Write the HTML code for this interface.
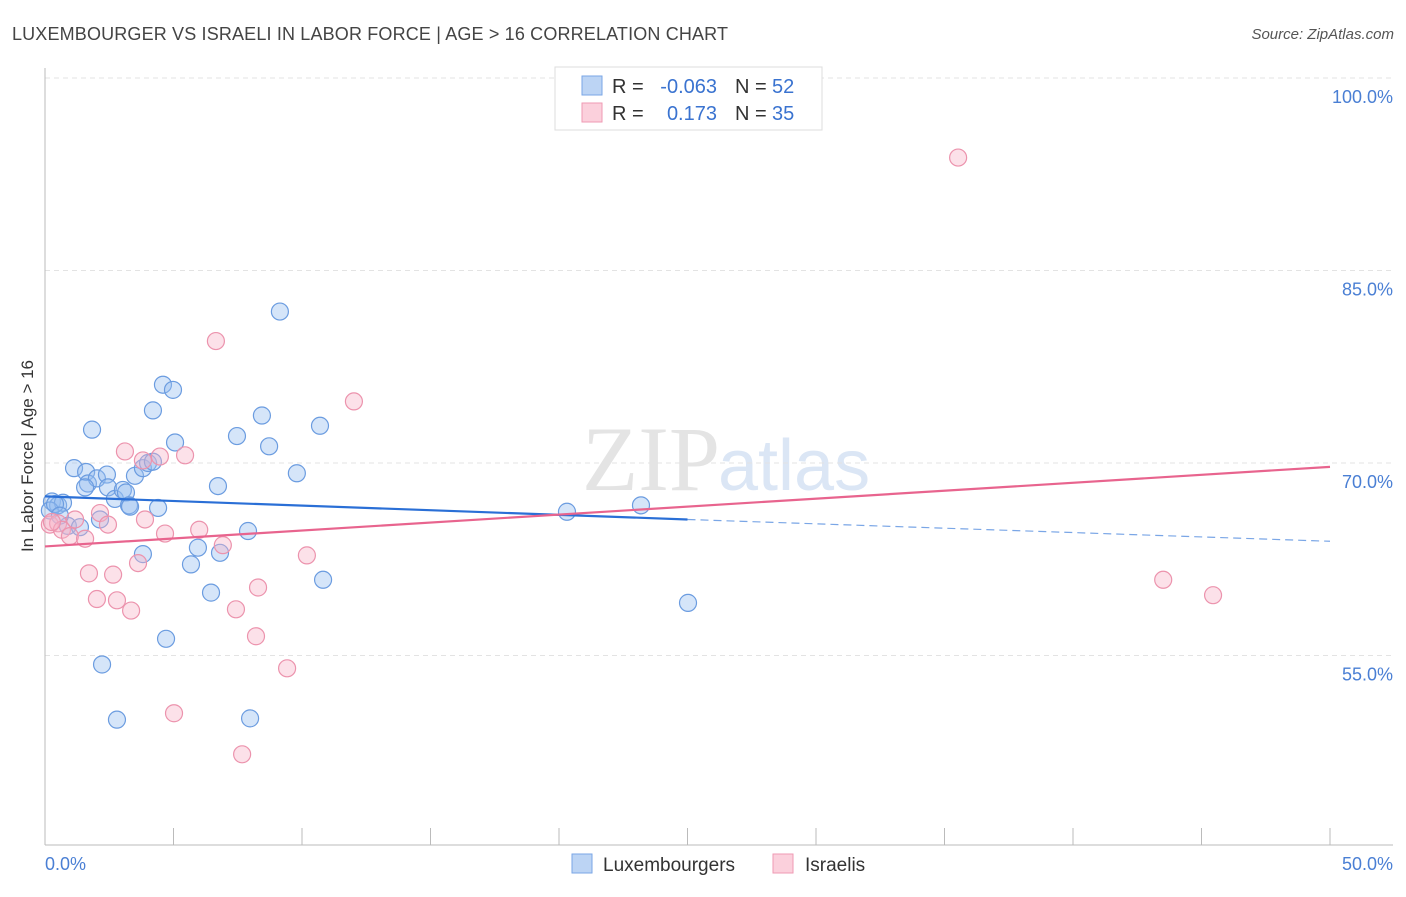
<!DOCTYPE html>
<html><head><meta charset="utf-8"><style>
body{margin:0;background:#fff;font-family:"Liberation Sans",sans-serif}
</style></head><body>
<svg width="1406" height="892" xmlns="http://www.w3.org/2000/svg" id="svg">
<text x="12" y="40" font-size="18" fill="#444" textLength="716">LUXEMBOURGER VS ISRAELI IN LABOR FORCE | AGE &gt; 16 CORRELATION CHART</text>
<text x="1394" y="39" font-size="15" fill="#555" font-style="italic" text-anchor="end">Source: ZipAtlas.com</text>
<text x="720" y="490" font-size="92" fill="#e4e4e4" text-anchor="end" font-family="Liberation Serif">ZIP</text>
<text x="718" y="490" font-size="72" fill="#dbe6f5">atlas</text>
<g id="grid"></g>
<line x1="45" y1="68" x2="45" y2="845" stroke="#bbb"/>
<line x1="45" y1="845" x2="1393" y2="845" stroke="#bbb"/>
<text transform="translate(33,456) rotate(-90)" font-size="17" fill="#333" text-anchor="middle">In Labor Force | Age &gt; 16</text>
<text x="45" y="870" font-size="18" fill="#4a7fd4">0.0%</text>
<text x="1393" y="870" font-size="18" fill="#4a7fd4" text-anchor="end">50.0%</text>
<g id="ticks"></g>
<g id="pts"></g>
<g id="lines"></g>
<g font-size="20">
<rect x="555" y="67" width="267" height="63" fill="#fff" stroke="#ddd"/>
<rect x="582" y="76" width="20" height="19" fill="#bcd4f4" stroke="#7aa6e6"/>
<rect x="582" y="103" width="20" height="19" fill="#fbd0dc" stroke="#ef9ab3"/>
<text x="612" y="93" fill="#333">R =</text>
<text x="717" y="93" fill="#3a73d0" text-anchor="end">-0.063</text>
<text x="735" y="93" fill="#333">N =</text>
<text x="772" y="93" fill="#3a73d0">52</text>
<text x="612" y="120" fill="#333">R =</text>
<text x="717" y="120" fill="#3a73d0" text-anchor="end">0.173</text>
<text x="735" y="120" fill="#333">N =</text>
<text x="772" y="120" fill="#3a73d0">35</text>
</g>
<g>
<rect x="572" y="854" width="20" height="19" fill="#bcd4f4" stroke="#7aa6e6"/>
<text x="603" y="871" font-size="19" fill="#333">Luxembourgers</text>
<rect x="773" y="854" width="20" height="19" fill="#fbd0dc" stroke="#ef9ab3"/>
<text x="805" y="871" font-size="19" fill="#333">Israelis</text>
</g>
</svg>
<script>
const yTicks=[100,85,70,55];
const blueX=[0.27,0.51,0.70,0.19,0.89,1.36,1.13,1.60,1.83,1.67,2.02,2.41,2.45,2.72,3.03,3.15,3.27,2.14,3.50,3.81,4.01,4.20,4.59,4.98,4.20,5.06,4.40,3.81,5.95,5.68,6.46,6.73,7.47,8.44,8.72,9.14,9.80,10.70,10.82,7.90,6.81,4.71,2.22,2.80,7.98,20.31,23.19,25.02,3.31,0.39,0.58,1.56];
const blueY=[67.0,66.7,66.9,66.3,65.1,65.0,69.6,69.3,72.6,68.4,68.8,69.1,68.1,67.2,67.9,67.7,66.7,65.6,69.0,69.6,70.0,70.1,76.1,75.7,74.1,71.6,66.5,62.9,63.4,62.1,59.9,68.2,72.1,73.7,71.3,81.8,69.2,72.9,60.9,64.7,63.0,56.3,54.3,50.0,50.1,66.2,66.7,59.1,66.6,66.8,65.9,68.1];
const pinkX=[0.19,0.51,0.66,0.97,1.17,1.56,2.14,2.45,1.71,2.02,2.65,2.80,3.35,3.11,3.62,3.89,3.81,4.47,5.45,4.67,6.00,6.65,6.92,7.43,8.29,8.21,9.42,10.19,12.02,5.02,7.67,35.53,43.51,45.45,0.27];
const pinkY=[65.2,65.3,64.8,64.3,65.6,64.1,66.1,65.2,61.4,59.4,61.3,59.3,58.5,70.9,62.2,65.6,70.2,70.5,70.6,64.5,64.8,79.5,63.6,58.6,60.3,56.5,54.0,62.8,74.8,50.5,47.3,93.8,60.9,59.7,65.4];
const blueTrend=[67.4,65.6,63.9];
const pinkTrend=[63.5,69.7];
const NS="http://www.w3.org/2000/svg";
const X=v=>45+v/50*1285, Y=v=>463-(v-70)*12.833;
function mk(t,a,p){const e=document.createElementNS(NS,t);for(const k in a)e.setAttribute(k,a[k]);document.getElementById(p).appendChild(e);return e;}
yTicks.forEach(t=>{
 const l=mk('line',{x1:45,x2:1393,y1:Y(t),y2:Y(t),stroke:'#e3e3e3','stroke-dasharray':'5,4'},'grid');
 
 
 const tx=mk('text',{x:1393,y:Y(t)+25,'font-size':18,fill:'#4a7fd4','text-anchor':'end'},'grid');
 tx.textContent=t.toFixed(1)+'%';
 
 
});
for(let i=0;i<=10;i++){
 const l=mk('line',{x1:X(i*5),x2:X(i*5),y1:828,y2:845,stroke:'#bbb'},'ticks');
 
 
}
blueX.forEach((x,i)=>{
 const c=mk('circle',{cx:X(x),cy:Y(blueY[i]),r:8.5,fill:'rgba(150,190,240,0.4)',stroke:'#6b9ce0','stroke-width':1.2},'pts');
 
 
});
pinkX.forEach((x,i)=>{
 const c=mk('circle',{cx:X(x),cy:Y(pinkY[i]),r:8.5,fill:'rgba(248,180,200,0.4)',stroke:'#ec93ad','stroke-width':1.2},'pts');
 
 
});
let b=mk('line',{x1:X(0),y1:Y(blueTrend[0]),x2:X(25),y2:Y(blueTrend[1]),stroke:'#2a6fd6','stroke-width':2.2},'lines');


b=mk('line',{x1:X(25),y1:Y(blueTrend[1]),x2:X(50),y2:Y(blueTrend[2]),stroke:'#7aa6e6','stroke-width':1.2,'stroke-dasharray':'8,5'},'lines');


b=mk('line',{x1:X(0),y1:Y(pinkTrend[0]),x2:X(50),y2:Y(pinkTrend[1]),stroke:'#e8648e','stroke-width':2.2},'lines');


</script>
</body></html>
